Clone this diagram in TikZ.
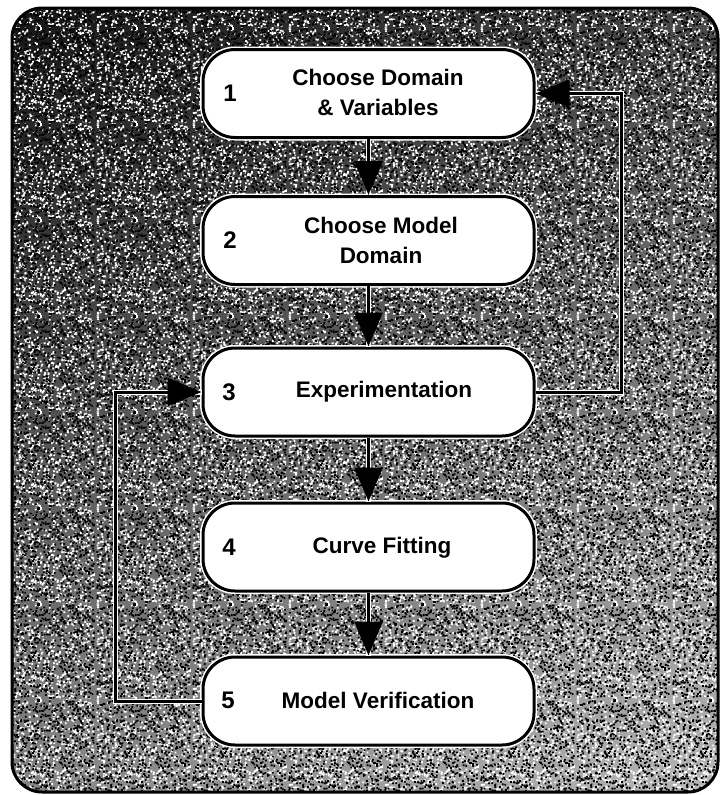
\documentclass[tikz,border=0pt]{standalone}
\usepackage{fontspec}
\setmainfont{Liberation Sans}
\usetikzlibrary{arrows.meta,shadings,patterns}
\definecolor{bgUL}{gray}{0.08}
\definecolor{bgUR}{gray}{0.28}
\definecolor{bgLL}{gray}{0.52}
\definecolor{bgLR}{gray}{0.72}
\pgfdeclarepatternformonly{speckW}{\pgfpoint{0pt}{0pt}}{\pgfpoint{96pt}{96pt}}{\pgfpoint{96pt}{96pt}}{%
  \pgfmathsetseed{11}%
  \foreach \i in {1,...,700}{%
    \pgfmathsetmacro{\px}{rnd*94.2}%
    \pgfmathsetmacro{\py}{rnd*94.2}%
    \pgfpathrectangle{\pgfpoint{\px pt}{\py pt}}{\pgfpoint{1.8pt}{1.8pt}}%
    \pgfusepath{fill}%
  }%
}
\pgfdeclarepatternformonly{speckB}{\pgfpoint{0pt}{0pt}}{\pgfpoint{96pt}{96pt}}{\pgfpoint{96pt}{96pt}}{%
  \pgfmathsetseed{977}%
  \foreach \i in {1,...,700}{%
    \pgfmathsetmacro{\px}{rnd*94.2}%
    \pgfmathsetmacro{\py}{rnd*94.2}%
    \pgfpathrectangle{\pgfpoint{\px pt}{\py pt}}{\pgfpoint{1.8pt}{1.8pt}}%
    \pgfusepath{fill}%
  }%
}
\begin{document}
\begin{tikzpicture}[x=1pt,y=-1pt,
  stepbox/.style={draw=black, line width=3pt, fill=white, rounded corners=32pt,
    minimum width=331pt, minimum height=88pt, inner sep=0pt,
    preaction={draw=white, line width=6pt}},
  flow/.style={line width=3pt, -{Triangle[length=34pt,width=28pt]},
    preaction={draw=white, line width=5pt, -}},
  num/.style={font=\bfseries\fontsize{24}{30}\selectfont, inner sep=0pt},
  lbl/.style={font=\bfseries\fontsize{22.5}{30}\selectfont, align=center, inner sep=0pt}]
\useasboundingbox (0,0) rectangle (721,795);
% background
\shade[upper left=bgUL, upper right=bgUR, lower left=bgLL, lower right=bgLR,
  rounded corners=30pt] (12,8) rectangle (718,792);
\fill[pattern=speckW, pattern color=white, rounded corners=30pt] (12,8) rectangle (718,792);
\fill[pattern=speckB, pattern color=black, rounded corners=30pt] (12,8) rectangle (718,792);
\draw[line width=3pt, rounded corners=30pt] (12,8) rectangle (718,792);
% boxes
\node[stepbox] (b1) at (368.5,93.5) {};
\node[stepbox] (b2) at (368.5,240.5) {};
\node[stepbox] (b3) at (368.5,392) {};
\node[stepbox] (b4) at (368.5,547) {};
\node[stepbox] (b5) at (368.5,701) {};
% numbers
\node[num] (n1) at (230,93) {1};
\node[num] (n2) at (230,240) {2};
\node[num] (n3) at (229,392) {3};
\node[num] (n4) at (229,547) {4};
\node[num] (n5) at (228,700) {5};
% labels
\node[lbl] (t1) at (378,92) {Choose Domain\\\& Variables};
\node[lbl] (t2) at (381,240) {Choose Model\\Domain};
\node[lbl] (t3) at (384,392) {Experimentation};
\node[lbl] (t4) at (382,548) {Curve Fitting};
\node[lbl] (t5) at (378,700) {Model Verification};
% connectors
\draw[flow] (b1) -- (b2);
\draw[flow] (b2) -- (b3);
\draw[flow] (b3) -- (b4);
\draw[flow] (b4) -- (b5);
\draw[flow] (b3.east) -| ([xshift=86pt]b1.east) -- (b1.east);
\draw[flow] (b5.west) -| ([xshift=-86pt]b3.west) -- (b3.west);
\end{tikzpicture}
\end{document}
